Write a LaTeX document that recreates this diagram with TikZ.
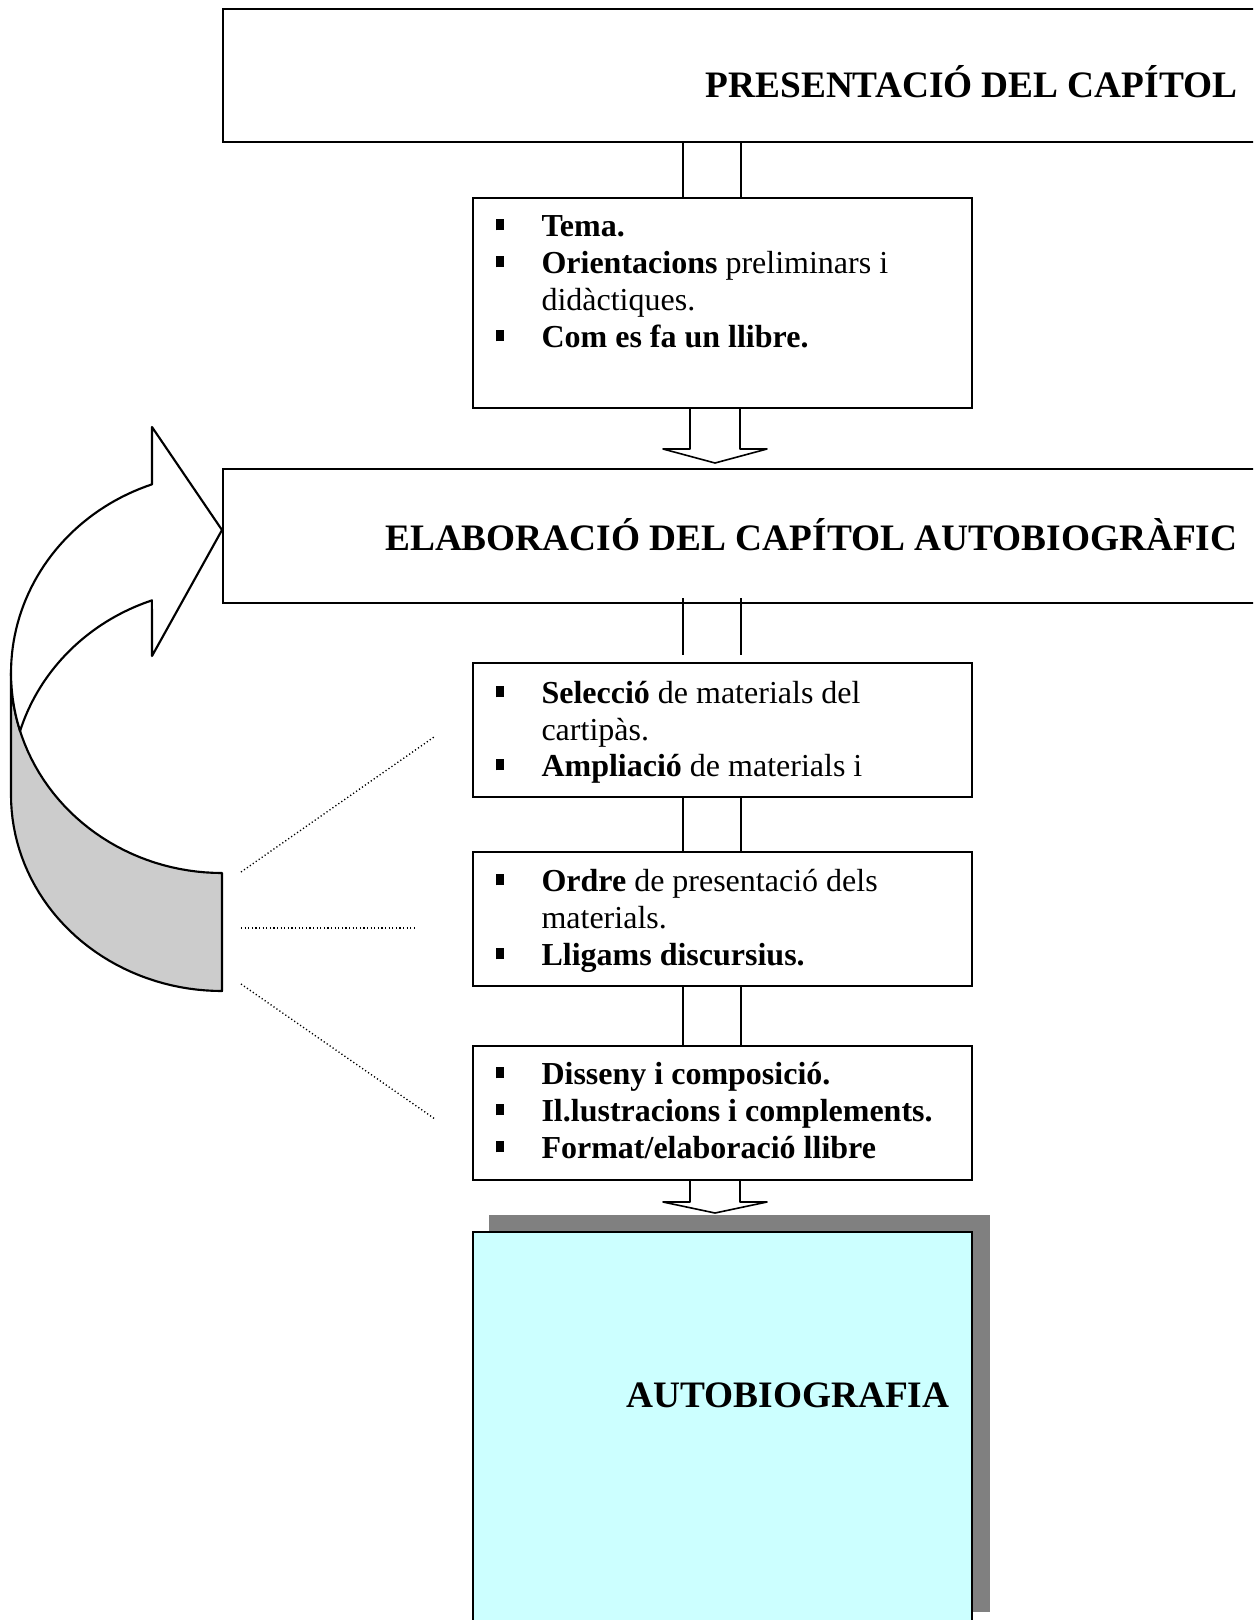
\documentclass[tikz,border=0pt]{standalone}
\usepackage{fontspec}
\setmainfont{Liberation Serif}
\usetikzlibrary{calc}
\definecolor{cyanfill}{HTML}{CCFFFF}
\definecolor{shadowgray}{HTML}{808080}
\definecolor{bandgray}{HTML}{CCCCCC}
\newcommand\bul{\rule[2.1pt]{3pt}{4.2pt}}
\begin{document}
\begin{tikzpicture}[x=0.375pt,y=-0.375pt,
  box/.style={draw, line width=0.8pt, rectangle, inner sep=0, anchor=north west},
  conn/.style={line width=0.6pt},
  ln/.style={anchor=base west, inner sep=0, font=\fontsize{12}{14}\selectfont},
  head/.style={anchor=base east, inner sep=0, font=\fontsize{14}{16}\selectfont\bfseries},
  dots/.style={line width=0.5pt, dash pattern=on 0.45pt off 0.9pt},
  curved/.style={line width=0.8pt, line join=round}
]
\clip (0,0) rectangle (1253,1620);
\fill[white] (0,0) rectangle (1253,1620);

% boxes
\node[box, minimum width=391.125pt, minimum height=49.875pt] (top) at (222,8) {};
\node[box, minimum width=187.125pt, minimum height=78.75pt] (b1) at (472,197) {};
\node[box, minimum width=391.125pt, minimum height=50.25pt] (elab) at (222,468) {};
\node[box, minimum width=187.125pt, minimum height=50.25pt] (sel) at (472,662) {};
\node[box, minimum width=187.125pt, minimum height=50.25pt] (ord) at (472,851) {};
\node[box, minimum width=187.125pt, minimum height=50.25pt] (dis) at (472,1045) {};
\node[anchor=north west, inner sep=0, fill=shadowgray, minimum width=187.875pt, minimum height=148.875pt] (shadow) at (488,1214) {};
\node[box, fill=cyanfill, minimum width=187.125pt, minimum height=153.375pt] (auto) at (472,1231) {};

% headings
\node[head] (toptext) at (1238,97.5) {PRESENTACIÓ DEL CAPÍTOL};
\node[head] (elabtext) at (1238,550) {ELABORACIÓ DEL CAPÍTOL AUTOBIOGRÀFIC};
\node[head] (autotext) at (950,1407) {AUTOBIOGRAFIA};

% box 1 text
\node[ln] (b1a) at (495,236) {\bul};
\node[ln] (b1t1) at (541,236) {\textbf{Tema.}};
\node[ln] (b1b) at (495,273) {\bul};
\node[ln] (b1t2) at (541,273) {\textbf{Orientacions} preliminars i};
\node[ln] (b1t3) at (541,310) {didàctiques.};
\node[ln] (b1c) at (495,347) {\bul};
\node[ln] (b1t4) at (541,347) {\textbf{Com es fa un llibre.}};

% selecció
\node[ln] (sela) at (495,703) {\bul};
\node[ln] (selt1) at (541,703) {\textbf{Selecció} de materials del};
\node[ln] (selt2) at (541,740) {cartipàs.};
\node[ln] (selb) at (495,776) {\bul};
\node[ln] (selt3) at (541,776) {\textbf{Ampliació} de materials i};

% ordre
\node[ln] (orda) at (495,891) {\bul};
\node[ln] (ordt1) at (541,891) {\textbf{Ordre} de presentació dels};
\node[ln] (ordt2) at (541,928) {materials.};
\node[ln] (ordb) at (495,965) {\bul};
\node[ln] (ordt3) at (541,965) {\textbf{Lligams discursius.}};

% disseny
\node[ln] (disa) at (495,1084) {\bul};
\node[ln] (dist1) at (541,1084) {\textbf{Disseny i composició.}};
\node[ln] (disb) at (495,1121) {\bul};
\node[ln] (dist2) at (541,1121) {\textbf{Il.lustracions i complements.}};
\node[ln] (disc) at (495,1158) {\bul};
\node[ln] (dist3) at (541,1158) {\textbf{Format/elaboració llibre}};

% double-line connectors
\coordinate (L) at (683,0);
\coordinate (R) at (741,0);
\draw[conn] (L |- top.south) -- (L |- b1.north);
\draw[conn] (R |- top.south) -- (R |- b1.north);
\draw[conn] ($(L |- elab.south)+(0,-6)$) -- ($(L |- sel.north)+(0,-7)$);
\draw[conn] ($(R |- elab.south)+(0,-6)$) -- ($(R |- sel.north)+(0,-7)$);
\draw[conn] (L |- sel.south) -- (L |- ord.north);
\draw[conn] (R |- sel.south) -- (R |- ord.north);
\draw[conn] (L |- ord.south) -- (L |- dis.north);
\draw[conn] (R |- ord.south) -- (R |- dis.north);

% block arrows
\coordinate (sL) at (690,0);
\coordinate (sR) at (740,0);
\draw[conn, line join=round] (sL |- b1.south) -- (690,449) -- (663,449) -- (715,463) -- (767,449) -- (740,449) -- (sR |- b1.south);
\draw[conn, line join=round] (sL |- dis.south) -- (690,1202) -- (663,1202) -- (715,1213) -- (767,1202) -- (740,1202) -- (sR |- dis.south);

% curved 3D arrow: side band
\filldraw[curved, fill=bandgray]
 (11,673) -- plot[domain=180:90, samples=40, variable=\t] ({222+211*cos(\t)},{673+200*sin(\t)})
 -- (222,991) -- plot[domain=90:180, samples=40, variable=\t] ({222+211*cos(\t)},{795+196*sin(\t)}) -- cycle;
% curved arrow: front face
\filldraw[curved, fill=white]
 (222,530) -- (152,427) -- (152,484)
 -- plot[domain=250.6:180, samples=40, variable=\t] ({222+211*cos(\t)},{673+200*sin(\t)})
 -- plot[domain=180:163.2, samples=8, variable=\t] ({222+211*cos(\t)},{673+200*sin(\t)})
 -- plot[domain=196.8:250.6, samples=40, variable=\t] ({222+211*cos(\t)},{789+200*sin(\t)})
 -- (152,656) -- cycle;

% dotted guide lines
\coordinate (d1a) at (241,872);
\coordinate (d1b) at (434,737);
\coordinate (d2a) at (241,928);
\coordinate (d2b) at (415,928);
\coordinate (d3a) at (241,984);
\coordinate (d3b) at (435,1119);
\draw[dots] (d1a) -- (d1b);
\draw[dots] (d2a) -- (d2b);
\draw[dots] (d3a) -- (d3b);
\end{tikzpicture}
\end{document}
